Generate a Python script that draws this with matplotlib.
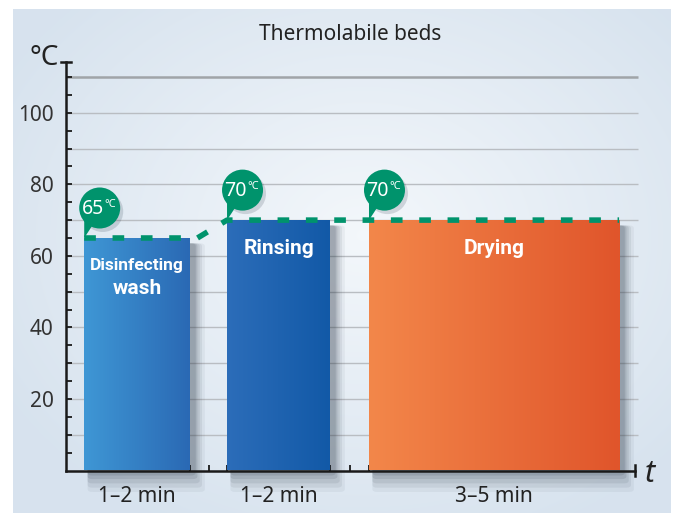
import numpy as np
import matplotlib
matplotlib.use("Agg")
import matplotlib.pyplot as plt
import matplotlib.patches as mpatches
import matplotlib.transforms as mtransforms
from matplotlib.colors import LinearSegmentedColormap

# ---- data ----
title = "Thermolabile beds"
phases = ["Disinfecting", "Rinsing", "Drying"]
phase_sub = ["wash", "", ""]
temps = [65, 70, 70]
durations = ["1\u20132 min", "1\u20132 min", "3\u20135 min"]
y_ticklabels = [20, 40, 60, 80, 100]
y_unit = "\u00b0C"
x_unit = "t"

# ---- layout (axis units, x 0..100) ----
bar_left = [3.2, 28.3, 53.25]
bar_right = [21.8, 46.4, 97.2]
bar_colors = [("#3f97d5", "#2a69b4"), ("#2c6db9", "#1259a7"), ("#f3874a", "#e0552b")]
GREEN = "#00936c"

plt.rcParams['font.family'] = ['Noto Sans', 'DejaVu Sans']
BOLD_FAMILY = ['Roboto', 'Lato', 'DejaVu Sans']

W, H = 676, 513
fig = plt.figure(figsize=(W / 100, H / 100), dpi=100)
fig.patch.set_facecolor("white")

# background panel with radial gradient
bg = fig.add_axes([0, 0, 1, 1], zorder=0)
bg.set_xlim(0, W); bg.set_ylim(H, 0); bg.axis("off")
yy, xx = np.mgrid[0:H, 0:W]
r = np.sqrt(((xx - 360) / 420.0) ** 2 + ((yy - 230) / 330.0) ** 2)
r = np.clip(r, 0, 1)
c_in = np.array([0.955, 0.970, 0.985])
c_out = np.array([0.845, 0.890, 0.935])
img = c_in[None, None, :] * (1 - r[..., None]) + c_out[None, None, :] * r[..., None]
bg.imshow(img, extent=(13, 671, H, 9.5), aspect="auto", zorder=0)

# main axes
x0, x1 = 66, 635
y0, y1 = 470.5, 62
ax = fig.add_axes([x0 / W, (H - y0) / H, (x1 - x0) / W, (y0 - y1) / H], zorder=1)
ax.set_facecolor("none")
ax.set_xlim(0, 100)
ax.set_ylim(0, 114.2)
for s in ["top", "right"]:
    ax.spines[s].set_visible(False)
for s in ["left", "bottom"]:
    ax.spines[s].set_linewidth(1.8)
    ax.spines[s].set_color("#1a1a1a")

# grid lines
for v in range(10, 111, 10):
    if v == 110:
        ax.plot([0, 100.5], [v, v], color="#a0a4a8", lw=1.8, zorder=1, clip_on=False, solid_capstyle="butt")
    else:
        ax.plot([0, 100.5], [v, v], color="#b9bdc2", lw=1.0, zorder=1, clip_on=False, solid_capstyle="butt")

# y ticks
ax.set_yticks(np.arange(5, 111, 5), minor=True)
ax.set_yticks(y_ticklabels)
ax.set_yticklabels([str(v) for v in y_ticklabels], fontsize=15, color="#333333")
ax.tick_params(axis="y", which="both", direction="in", length=4, width=1.3, color="#1a1a1a", pad=9)
# x ticks at bar edges and gap middles
xt = [bar_right[0], (bar_right[0] + bar_left[1]) / 2, bar_left[1],
      bar_right[1], (bar_right[1] + bar_left[2]) / 2, bar_left[2]]
ax.set_xticks(xt)
ax.set_xticklabels([""] * len(xt))
ax.tick_params(axis="x", direction="in", length=4, width=1.3, color="#1a1a1a")

# axis caps
ax.plot([-0.9, 0.9], [114.2, 114.2], color="#1a1a1a", lw=1.8, clip_on=False)
ax.plot([100, 100], [-1.4, 1.4], color="#1a1a1a", lw=1.8, clip_on=False)

# bars with gradient + shadow
for i in range(3):
    l, rr, t = bar_left[i], bar_right[i], temps[i]
    for (dx, dy, a) in [(2.0, -6.0, 0.05), (1.5, -4.8, 0.07), (1.1, -3.6, 0.09), (0.7, -2.4, 0.11), (0.4, -1.4, 0.12)]:
        sh = mpatches.FancyBboxPatch((l + 0.6, dy), (rr - l) + dx, t - dy - 1.5,
                                     boxstyle="round,pad=0,rounding_size=0.8",
                                     fc="#1d2a3a", ec="none", alpha=a, zorder=2, clip_on=False)
        ax.add_patch(sh)
    cmap = LinearSegmentedColormap.from_list("g%d" % i, list(bar_colors[i]))
    grad = np.linspace(0, 1, 256)[None, :]
    im = ax.imshow(grad, extent=(l, rr, 0, t), aspect="auto", cmap=cmap, zorder=3, origin="lower")
    rect = mpatches.Rectangle((l, 0), rr - l, t, transform=ax.transData, fc="none", ec="none")
    ax.add_patch(rect)
    im.set_clip_path(rect)

ax.set_xlim(0, 100)
ax.set_ylim(0, 114.2)

# bar labels
cx = [(l + r_) / 2 for l, r_ in zip(bar_left, bar_right)]
kw = dict(ha="center", va="center", color="white", fontweight="bold", family=BOLD_FAMILY, zorder=5)
ax.text(cx[0], 57.3, phases[0], fontsize=12.5, **kw)
ax.text(cx[0], 51.0, phase_sub[0], fontsize=15, **kw)
ax.text(cx[1], 62.0, phases[1], fontsize=15, **kw)
ax.text(cx[2], 62.0, phases[2], fontsize=15, **kw)

# duration labels
for c, d in zip(cx, durations):
    ax.text(c, -7.3, d, ha="center", va="center", fontsize=15, color="#222222", clip_on=False)

# dashed temperature line
lx = [bar_left[0], bar_right[0] + 1.3, bar_left[1], bar_right[2]]
ly = [temps[0], temps[0], temps[1], temps[2]]
ax.plot(lx, ly, color=GREEN, lw=4.0, dashes=(2.1, 3.0), zorder=6, solid_capstyle="butt",
        dash_capstyle="butt")

# bubbles
cxo, cyo, rad = 0.155, 0.30, 0.205
for i in range(3):
    t = temps[i]
    tr = mtransforms.Affine2D().scale(fig.dpi) + mtransforms.Affine2D().translate(
        *ax.transData.transform((bar_left[i], t)))
    sh = mpatches.Circle((cxo + 0.03, cyo - 0.035), rad, transform=tr, fc="#30404f", ec="none", alpha=0.18, zorder=6)
    ax.add_patch(sh)
    circ = mpatches.Circle((cxo, cyo), rad, transform=tr, fc=GREEN, ec="none", zorder=7, clip_on=False)
    tail = mpatches.Polygon([(0.0, 0.0), (0.0, 0.18), (0.085, 0.13)], closed=True, transform=tr,
                            fc=GREEN, ec="none", zorder=7, clip_on=False)
    ax.add_patch(circ)
    ax.add_patch(tail)
    ax.text(cxo + 0.045, cyo - 0.01, str(t), transform=tr, ha="right", va="center",
            fontsize=14, color="white", zorder=8)
    ax.text(cxo + 0.045, cyo + 0.035, "\u00b0C", transform=tr, ha="left", va="center",
            fontsize=8, color="white", zorder=8)

# title and axis units
fig.text(350 / W, 1 - 35 / H, title, ha="center", va="center", fontsize=15, color="#222222")
fig.text(44 / W, 1 - 58 / H, y_unit, ha="center", va="center", fontsize=20, color="#222222")
fig.text(650 / W, 1 - 474 / H, x_unit, ha="center", va="center", fontsize=22, color="#222222", style="italic")

fig.savefig("out.png", dpi=100, facecolor="white")
